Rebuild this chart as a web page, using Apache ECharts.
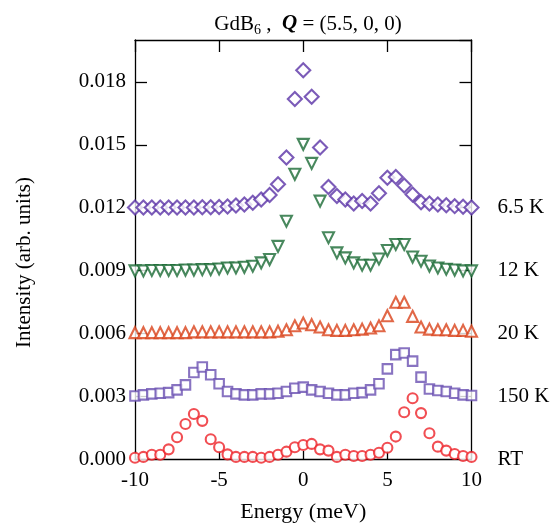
<!DOCTYPE html>
<html>
<head>
<meta charset="utf-8">
<script src="https://cdn.jsdelivr.net/npm/echarts@6/dist/echarts.min.js"></script>
<style>
  html, body { margin: 0; padding: 0; background: #fff; }
  #main { width: 554px; height: 528px; }
</style>
</head>
<body>
<div id="main"></div>
<script>
// energy transfer (meV)
var energy = [-10, -9.5, -9, -8.5, -8, -7.5, -7, -6.5, -6, -5.5, -5, -4.5, -4, -3.5, -3, -2.5, -2, -1.5, -1, -0.5,
  0, 0.5, 1, 1.5, 2, 2.5, 3, 3.5, 4, 4.5, 5, 5.5, 6, 6.5, 7, 7.5, 8, 8.5, 9, 9.5, 10];

// intensities, each curve already shifted by its offset
var rtData = [0.00006, 0.0001, 0.0002, 0.0002, 0.00046, 0.00104, 0.00167, 0.00215, 0.00182, 0.00094, 0.00056, 0.00022, 0.0001, 0.0001, 0.0001, 0.00006, 0.0001, 0.0002, 0.00035, 0.00056,
  0.00067, 0.00072, 0.00046, 0.0004, 0.0001, 0.0002, 0.00014, 0.00014, 0.0002, 0.0003, 0.00054, 0.00107, 0.00223, 0.0029, 0.00219, 0.00123, 0.00059, 0.0004, 0.00024, 0.00014, 0.0001];
var k150Data = [0.00301, 0.00306, 0.00311, 0.00314, 0.00317, 0.0033, 0.00354, 0.00413, 0.00439, 0.00402, 0.00359, 0.00322, 0.00311, 0.00306, 0.00306, 0.00311, 0.00311, 0.00314, 0.00322, 0.00338,
  0.00343, 0.0033, 0.00322, 0.00314, 0.00306, 0.00306, 0.00314, 0.00317, 0.0033, 0.00359, 0.0043, 0.00498, 0.00506, 0.00467, 0.00391, 0.00334, 0.00327, 0.00322, 0.00314, 0.00306, 0.00303];
var k20Data = [0.00603, 0.00603, 0.00603, 0.00603, 0.00603, 0.00603, 0.00603, 0.00607, 0.00607, 0.00607, 0.00607, 0.00607, 0.00607, 0.00607, 0.00607, 0.00607, 0.00607, 0.0061, 0.00617, 0.00636,
  0.00649, 0.00641, 0.0063, 0.00617, 0.00614, 0.00614, 0.00617, 0.0062, 0.00625, 0.00636, 0.00684, 0.00748, 0.00748, 0.00681, 0.0063, 0.0062, 0.00617, 0.00617, 0.00614, 0.00614, 0.0061];
var k12Data = [0.00898, 0.00898, 0.009, 0.009, 0.009, 0.009, 0.00902, 0.00902, 0.00904, 0.00904, 0.00907, 0.00912, 0.00912, 0.00915, 0.0092, 0.00936, 0.00952, 0.01015, 0.01135, 0.01359,
  0.01502, 0.01411, 0.01231, 0.01056, 0.00984, 0.0096, 0.00936, 0.00925, 0.00925, 0.00955, 0.00995, 0.01024, 0.01024, 0.00964, 0.00944, 0.00921, 0.00912, 0.00906, 0.00902, 0.00898, 0.00898];
var k65Data = [0.012, 0.012, 0.012, 0.012, 0.012, 0.012, 0.012, 0.012, 0.01202, 0.01202, 0.01203, 0.01205, 0.0121, 0.01215, 0.01223, 0.01239, 0.0126, 0.01311, 0.01439, 0.01718,
  0.01856, 0.01729, 0.01487, 0.01298, 0.01255, 0.01239, 0.0122, 0.01231, 0.0122, 0.01268, 0.01343, 0.01346, 0.01306, 0.01263, 0.01226, 0.0122, 0.01215, 0.01211, 0.01207, 0.01204, 0.012];

// labels on the right, one per offset step of 0.003
var tempLabels = ['RT', '150 K', '20 K', '12 K', '6.5 K'];

var font = 'Liberation Serif';
var chart = echarts.init(document.getElementById('main'));

function pairs(ys) {
  return energy.map(function (x, i) { return [x, ys[i]]; });
}

function scatter(name, data, symbol, size, color) {
  return {
    name: name,
    type: 'scatter',
    data: pairs(data),
    symbol: symbol,
    symbolSize: size,
    itemStyle: { color: '#fff', borderColor: color, borderWidth: 2.1 },
    silent: true
  };
}

var yCommon = {
  type: 'value',
  min: 0,
  max: 0.02,
  interval: 0.003,
  splitLine: { show: false },
  axisLine: { show: true, onZero: false, lineStyle: { color: '#000', width: 1.3 } },
  axisTick: { show: true, inside: true, length: 12, lineStyle: { color: '#000', width: 1.3 } }
};

var option = {
  backgroundColor: '#fff',
  animation: false,
  title: {
    text: '{n|GdB}{s|6}{n| ,  }{q|Q}{n| = (5.5, 0, 0)}',
    left: 303,
    top: 6,
    textAlign: 'center',
    textStyle: {
      fontWeight: 'normal',
      rich: {
        n: { fontFamily: font, fontSize: 21, color: '#000', lineHeight: 26, fontWeight: 'normal' },
        s: { fontFamily: font, fontSize: 14, color: '#000', lineHeight: 14, verticalAlign: 'bottom', fontWeight: 'normal' },
        q: { fontFamily: font, fontSize: 21, color: '#000', lineHeight: 26, fontWeight: 'bold', fontStyle: 'italic' }
      }
    }
  },
  grid: { left: 135, right: 82.5, top: 40, bottom: 68.5 },
  xAxis: [{
    type: 'value',
    min: -10,
    max: 10,
    interval: 5,
    name: 'Energy (meV)',
    nameLocation: 'middle',
    nameGap: 42,
    nameTextStyle: { fontFamily: font, fontSize: 22, color: '#000' },
    splitLine: { show: false },
    axisLine: { onZero: false, lineStyle: { color: '#000', width: 1.3 } },
    axisTick: { inside: true, length: 8, lineStyle: { color: '#000', width: 1.3 } },
    axisLabel: { fontFamily: font, fontSize: 21, color: '#000', margin: 11 }
  }, {
    type: 'value',
    position: 'top',
    min: -10,
    max: 10,
    interval: 5,
    splitLine: { show: false },
    axisLine: { onZero: false, lineStyle: { color: '#000', width: 1.3 } },
    axisTick: { inside: true, length: 12, lineStyle: { color: '#000', width: 1.3 } },
    axisLabel: { show: false }
  }],
  yAxis: [Object.assign({}, yCommon, {
    position: 'left',
    name: 'Intensity (arb. units)',
    nameLocation: 'middle',
    nameGap: 100,
    nameTextStyle: { fontFamily: font, fontSize: 21, color: '#000', padding: [0, 26, 0, 0] },
    axisLabel: {
      fontFamily: font, fontSize: 21, color: '#000', margin: 9, showMaxLabel: false,
      formatter: function (v) { return v.toFixed(3); }
    }
  }), Object.assign({}, yCommon, {
    position: 'right',
    axisLabel: {
      fontFamily: font, fontSize: 21, color: '#000', margin: 26, align: 'left',
      formatter: function (v) {
        var k = Math.round(v / 0.003);
        return tempLabels[k] || '';
      }
    }
  })],
  series: [
    scatter('RT', rtData, 'circle', 10, '#ee2228'),
    scatter('150 K', k150Data, 'rect', 9.5, '#6a50b2'),
    scatter('20 K', k20Data, 'triangle', 11, '#d9421a'),
    scatter('12 K', k12Data, 'path://M0,0 L2,0 L1,1.8 Z', 11, '#1a6a35'),
    scatter('6.5 K', k65Data, 'diamond', 14, '#5a32a6')
  ]
};

chart.setOption(option);
</script>
</body>
</html>
